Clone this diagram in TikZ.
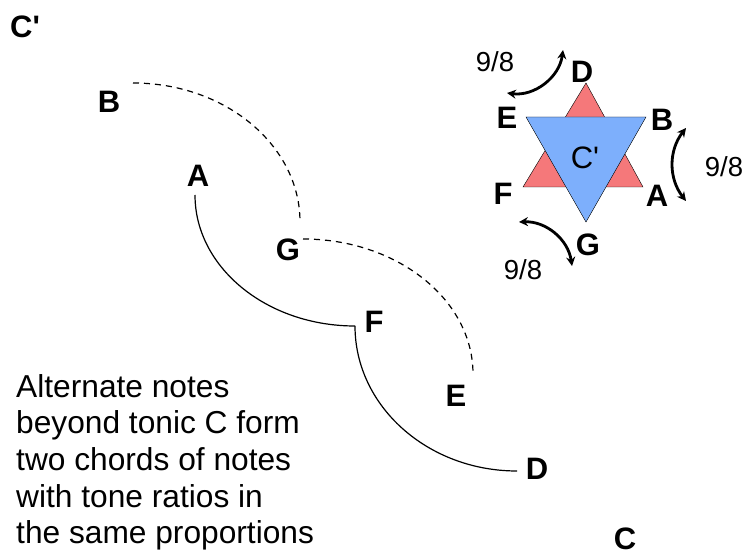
\documentclass[tikz,border=0pt]{standalone}
\usepackage{fontspec}
\setmainfont{Liberation Sans}
\usepackage{tikz}
\usepackage{xcolor}
\usetikzlibrary{arrows.meta}

\definecolor{starred}{RGB}{245,120,122}
\definecolor{starblue}{RGB}{125,175,252}

\tikzset{
  note/.style={font=\fontsize{31}{36}\selectfont\bfseries, inner sep=0pt},
  ratio/.style={font=\fontsize{27.5}{32}\selectfont, inner sep=0pt},
  swap/.style={line width=2.8pt, {Stealth[length=9pt,width=9pt]}-{Stealth[length=9pt,width=9pt]}},
  chord/.style={line width=1.2pt}
}

\begin{document}
\begin{tikzpicture}[x=1pt, y=-1pt]
\useasboundingbox (0,0) rectangle (747,553);

					% Octave labels
					\node[note] (cup) at (25,27) {C\textquotesingle};
					\node[note, anchor=base] (clow) at (625,549) {C};
					
					% Notes along the spiral
					\node[note] (lB) at (109,102) {B};
					\node[note] (lA) at (198,176) {A};
					\node[note] (lG) at (288,250) {G};
					\node[note] (lF) at (374,322) {F};
					\node[note] (lE) at (456,396) {E};
					\node[note] (lD) at (537,469) {D};
					
					% Arc ends
					\coordinate (bs) at (133,83);
					\coordinate (gs) at (303,239);
					\coordinate (as) at (195,195);
					\coordinate (fc) at (355,326);
					
					% Dashed chord B - G - E
					\draw[chord, dashed, dash pattern=on 6pt off 5pt] (bs) arc[start angle=-90, end angle=0, x radius=167, y radius=139];
					\draw[chord, dashed, dash pattern=on 6pt off 5pt] (gs) arc[start angle=-90, end angle=0, x radius=170, y radius=135];
					
					% Solid chord A - F - D
					\draw[chord] (as) arc[start angle=180, end angle=90, x radius=160, y radius=131];
					\draw[chord] (fc) arc[start angle=180, end angle=90, x radius=162, y radius=145];
					
					% Caption
					\node[font=\fontsize{31.7}{36.7}\selectfont, align=left, anchor=north west, inner sep=0pt] (txt) at (16,374)
					{Alternate notes\\beyond tonic C form\\two chords of notes\\with tone ratios in\\the same proportions};
					
					% Star of two triangles
					\draw[fill=starred] (586,83) -- (523,187) -- (643,187) -- cycle;
					\draw[fill=starblue] (526,117) -- (646,117) -- (586,222) -- cycle;
					\node[font=\fontsize{31}{36}\selectfont, inner sep=0pt] (sc) at (585,158) {C\textquotesingle};
					
					% Star labels
					\node[note] (sD) at (582,72) {D};
					\node[note] (sE) at (507,118) {E};
					\node[note] (sB) at (662,120) {B};
					\node[note] (sF) at (503,194) {F};
					\node[note] (sA) at (657,196) {A};
					\node[note] (sG) at (588,245) {G};
					
					% Whole-tone steps
					\coordinate (t1) at (507,93);
					\coordinate (t2) at (563,50);
					\coordinate (t3) at (686,128);
					\coordinate (t4) at (686,201);
					\coordinate (t5) at (519,222);
					\coordinate (t6) at (572,266);
					\draw[swap] (t1) to[bend right=45] (t2);
					\draw[swap] (t3) to[bend right=38] (t4);
					\draw[swap] (t5) to[bend left=42] (t6);
					\node[ratio] (r1) at (495,62) {9/8};
					\node[ratio] (r2) at (724,167) {9/8};
					\node[ratio] (r3) at (523,270) {9/8};
				\end{tikzpicture}
\end{document}
